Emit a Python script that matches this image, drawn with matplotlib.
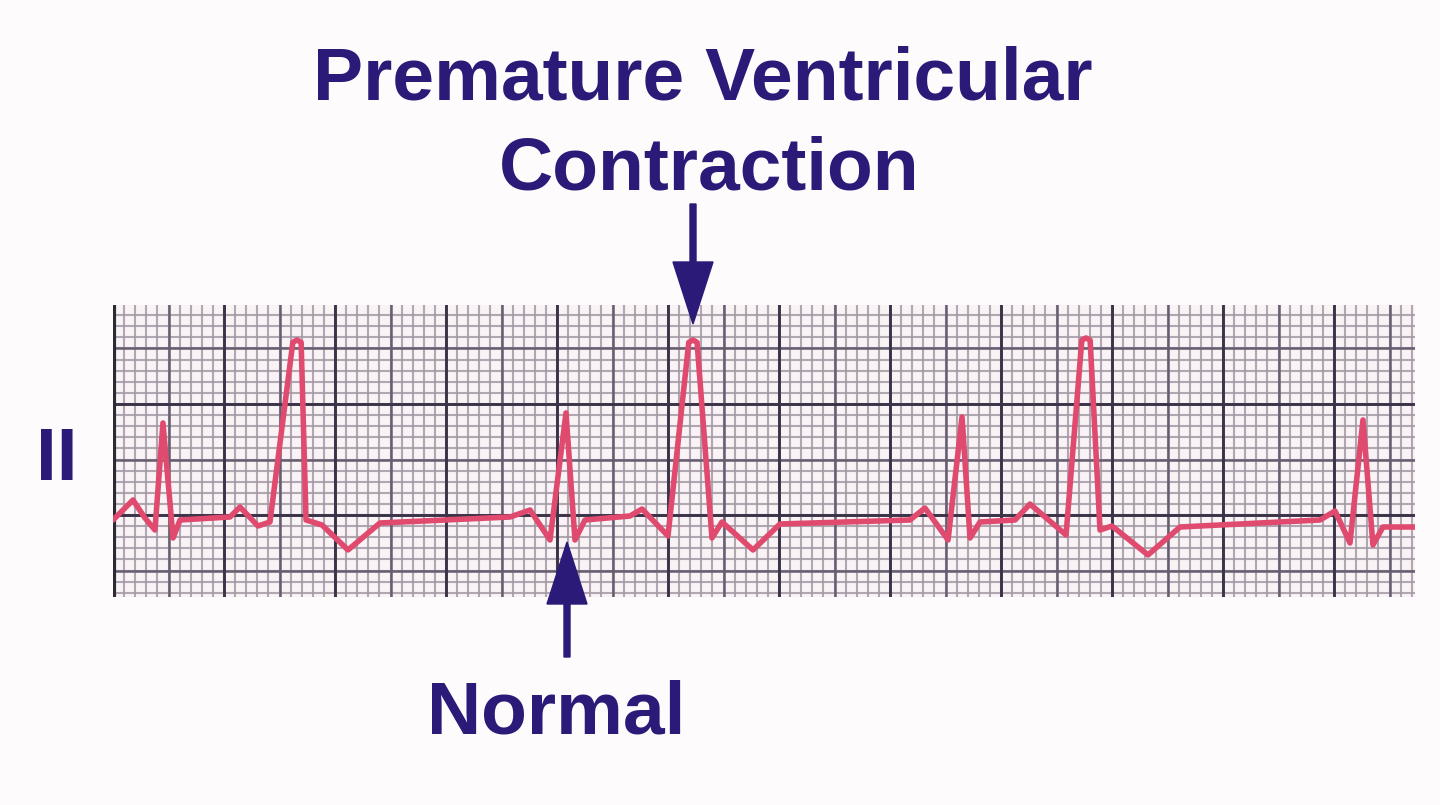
import numpy as np
import matplotlib.pyplot as plt

# ECG trace, lead II (x = small boxes along the strip, y = small boxes from baseline line)
t_mm = [0.0, 1.8, 2.88, 3.78, 4.5, 5.41, 6.04, 10.54, 11.44, 13.06, 14.14, 16.2, 16.58, 16.95, 17.39,
        18.83, 21.17, 24.05, 35.77, 37.57, 39.37, 40.81, 41.62, 42.52, 46.58, 47.66, 50.0,
        51.87, 52.25, 52.62, 53.96, 54.86, 57.66, 60.09, 71.8, 73.15, 75.23, 76.49, 77.21, 78.11, 81.26,
        82.61, 85.86, 87.28, 87.66, 88.03, 88.92, 90.0, 93.24, 96.13, 108.74, 110.09, 111.44, 112.61,
        113.51, 114.41, 117.3]
amp_mm = [-0.45, 1.35, -0.27, -1.35, 8.29, -2.07, -0.45, -0.18, 0.72, -0.99, -0.63, 15.55, 15.77, 15.55, -0.45,
          -0.9, -3.15, -0.72, -0.18, 0.45, -2.25, 9.19, -2.25, -0.45, -0.09, 0.54, -1.89,
          15.55, 15.77, 15.55, -2.07, -0.63, -3.15, -0.81, -0.45, 0.63, -2.25, 8.83, -2.07, -0.63, -0.45,
          0.99, -1.8, 15.75, 15.95, 15.75, -1.35, -0.99, -3.6, -1.08, -0.45, 0.36, -2.52, 8.56,
          -2.7, -1.08, -1.08]

title_lines = ['Premature Ventricular', 'Contraction']
lead_label = 'II'
normal_label = 'Normal'

navy = '#2b1a77'
trace_col = '#e04a6e'

fig = plt.figure(figsize=(14.4, 8.05), dpi=100, facecolor='#fdfbfc')

# ECG paper
ax = fig.add_axes([113/1440, 1-597/805, 1302/1440, 292/805], zorder=1)
ax.set_facecolor('#f9f3f6')
x0, x1 = 0, 1302/11.1
y0, y1 = -82/11.1, 210/11.1
ax.set_xlim(x0, x1)
ax.set_ylim(y0, y1)

for v in np.arange(0, x1, 1):
    ax.axvline(v, color='#a39aa5', lw=1.5, alpha=0.85, zorder=0)
for v in np.arange(-7, y1, 1):
    ax.axhline(v, color='#a39aa5', lw=1.5, alpha=0.85, zorder=0)
for v in np.arange(0, x1, 5):
    ax.axvline(v, color='#665d70', lw=1.8, zorder=0)
for v in np.arange(-5, y1, 5):
    ax.axhline(v, color='#665d70', lw=1.8, zorder=0)
for v in np.arange(0, x1, 10):
    ax.axvline(v, color='#3a3246', lw=2.0, zorder=0)
for v in [0, 10]:
    ax.axhline(v, color='#3a3246', lw=2.0, zorder=0)
ax.axvline(0.05, color='#2e2a33', lw=3, zorder=0)

ax.plot(t_mm, amp_mm, color=trace_col, lw=4.0, solid_joinstyle='round',
        solid_capstyle='round', zorder=2)
ax.set_xticks([])
ax.set_yticks([])
for s in ax.spines.values():
    s.set_visible(False)

# overlay in pixel units for labels and arrows
ov = fig.add_axes([0, 0, 1, 1], zorder=3)
ov.set_xlim(0, 1440)
ov.set_ylim(805, 0)
ov.axis('off')
ov.patch.set_alpha(0)

font = dict(family=['Liberation Sans', 'DejaVu Sans'], weight='bold', color=navy, fontsize=54)
ov.text(703, 100, title_lines[0], ha='center', va='baseline', **font)
ov.text(709, 190, title_lines[1], ha='center', va='baseline', **font)
ov.text(556, 733, normal_label, ha='center', va='baseline', **font)
ov.text(57, 480, lead_label, ha='center', va='baseline', **font)

ov.arrow(693, 204, 0, 120, width=6, head_width=40, head_length=62,
         length_includes_head=True, color=navy)
ov.arrow(567, 657, 0, -115, width=6, head_width=40, head_length=62,
         length_includes_head=True, color=navy)

fig.savefig('out.png', dpi=100, facecolor=fig.get_facecolor())
